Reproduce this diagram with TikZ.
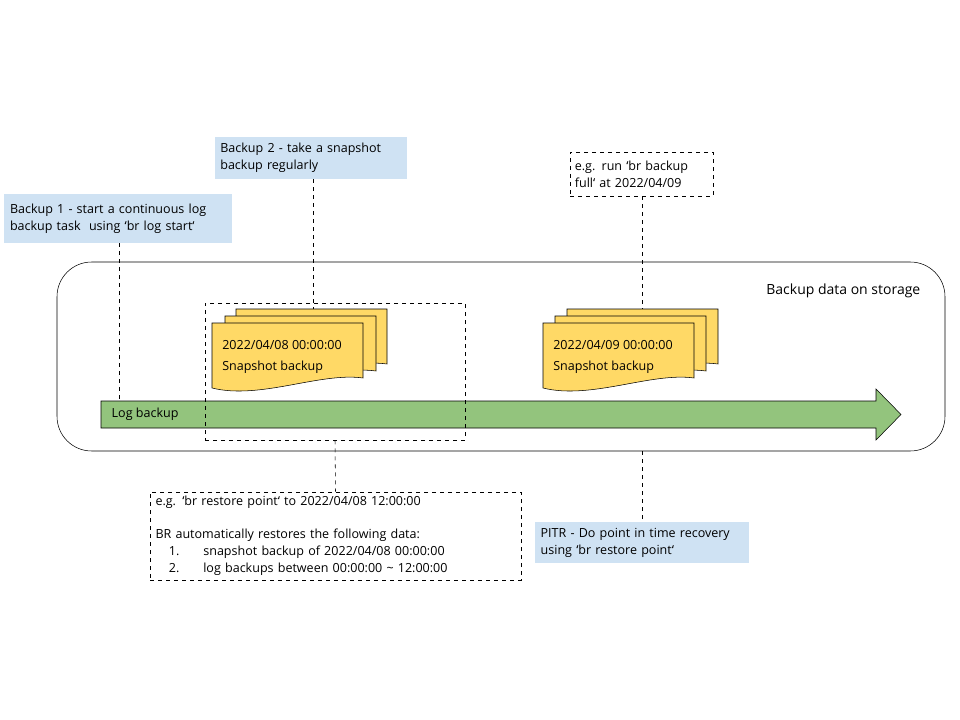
\documentclass[tikz,border=0pt]{standalone}
\usepackage{fontspec}
\setmainfont{Open Sans}
\usetikzlibrary{positioning,calc}
\definecolor{noteblue}{HTML}{CFE2F3}
\definecolor{docyellow}{HTML}{FFD966}
\definecolor{loggreen}{HTML}{93C47D}
\tikzset{
  notebox/.style={fill=noteblue, inner sep=0pt, align=left, font=\fontsize{9.4}{12.75}\selectfont},
  dashbox/.style={draw, dashed, inner sep=0pt, align=left, font=\fontsize{9.4}{12.75}\selectfont},
  leader/.style={dashed},
  docpage/.style={draw, fill=docyellow}
}
% one wavy snapshot page, top left corner at (#1,#2)
\newcommand{\snappage}[2]{%
  \filldraw[docpage] (#1,#2) -- ++(151,0) -- ++(0,55)
    .. controls +(-43,-6) and +(48,12) .. ++(-151,10) -- cycle;}
\begin{document}
\begin{tikzpicture}[x=0.75pt, y=-0.75pt]
  \useasboundingbox (0,0) rectangle (960,720);

  % storage area
  \draw[rounded corners=26pt] (57,262) rectangle (945,451);
  \node[anchor=east, font=\fontsize{10.5}{13}\selectfont] (store) at (925,291) {Backup data on storage};

  % log backup arrow
  \filldraw[fill=loggreen] (101,401) -- (876,401) -- (876,389) -- (901,414.5)
    -- (876,440) -- (876,428) -- (101,428) -- cycle;
  \node[anchor=west, font=\fontsize{9.4}{12}\selectfont] (logb) at (107,414.5) {Log backup};

  % snapshot stacks
  \snappage{236}{309}
  \snappage{225}{316}
  \snappage{212}{323}
  \node[anchor=north west, align=left, inner sep=0pt, font=\fontsize{9.4}{16}\selectfont] (snapA) at (222,340) {2022/04/08 00:00:00\\Snapshot backup};
  \snappage{567}{309}
  \snappage{555}{316}
  \snappage{543}{323}
  \node[anchor=north west, align=left, inner sep=0pt, font=\fontsize{9.4}{16}\selectfont] (snapB) at (553,340) {2022/04/09 00:00:00\\Snapshot backup};

  % notes
  \node[notebox, minimum width=171pt, minimum height=36.75pt, text width=162pt] (b1) at (118,218.5)
    {Backup 1 - start a continuous log\\backup task\ \ using `br log start`};
  \node[notebox, minimum width=144pt, minimum height=31.5pt, text width=136pt] (b2) at (311,158)
    {Backup 2 - take a snapshot\\backup regularly};
  \node[dashbox, minimum width=107.25pt, minimum height=33pt, text width=100pt] (run) at (641.5,174)
    {e.g. run `br backup\\full` at 2022/04/09};
  \node[dashbox, minimum width=195pt, minimum height=102.75pt] (sel) at (335,371.5) {};
  \node[dashbox, minimum width=278.25pt, minimum height=66pt, text width=270pt] (rest) at (335.5,536)
    {e.g. `br restore point` to 2022/04/08 12:00:00\\[12pt]
     BR automatically restores the following data:\\
     \hspace*{10pt}1.\hspace{18pt}snapshot backup of 2022/04/08 00:00:00\\
     \hspace*{10pt}2.\hspace{18pt}log backups between 00:00:00 \textasciitilde\ 12:00:00};
  \node[notebox, minimum width=160.5pt, minimum height=30.75pt, text width=152pt] (pitr) at (642,542.5)
    {PITR - Do point in time recovery\\using `br restore point`};

  % leader lines
  \coordinate (t1) at (119,401);
  \coordinate (t2) at (313,309);
  \coordinate (t3) at (642,309);
  \coordinate (t4) at (642,451);
  \draw[leader] (b1.south -| t1) -- (t1);
  \draw[leader] (b2.south -| t2) -- (t2);
  \draw[leader] (run.south -| t3) -- (t3);
  \draw[leader] (sel.south) -- (rest.north);
  \draw[leader] (t4) -- (pitr.north);
\end{tikzpicture}
\end{document}
